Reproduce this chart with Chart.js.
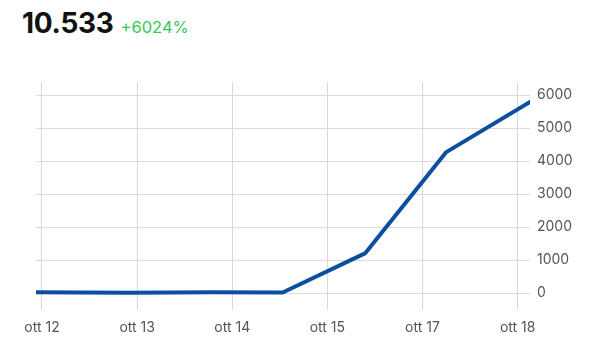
<!DOCTYPE html>
<html>
<head>
<meta charset="utf-8">
<script src="https://cdn.jsdelivr.net/npm/chart.js@4"></script>
<style>
  html, body { margin: 0; padding: 0; background: #fff; }
  body { width: 600px; height: 354px; position: relative; overflow: hidden; font-family: Inter, "Noto Sans", sans-serif; }
  #titolo { position: absolute; left: 22px; top: 6px; white-space: nowrap; }
  #valore { font-size: 28px; font-weight: 700; color: #111; letter-spacing: -0.3px; }
  #variazione { font-size: 16.5px; color: #34c759; margin-left: 7px; }
  #grafico { position: absolute; left: 0; top: 0; }
</style>
</head>
<body>
<div id="titolo"><span id="valore">10.533</span><span id="variazione">+6024%</span></div>
<canvas id="grafico" width="600" height="354"></canvas>
<script>
// etichette dei giorni (ott 16 manca nel grafico)
const giorni = ['ott 12', 'ott 13', 'ott 14', 'ott 15', 'ott 17', 'ott 18'];
// posizione dei punti sull'asse dei giorni (0 = ott 12)
const posizioni = [-0.063, 0.9, 1.8, 2.53, 3.40, 4.25, 5.13];
const valori = [20, 10, 25, 15, 1210, 4270, 5790];
const tickY = [0, 1000, 2000, 3000, 4000, 5000, 6000];

const punti = posizioni.map((x, i) => ({ x: x, y: valori[i] }));

const contesto = document.getElementById('grafico').getContext('2d');
new Chart(contesto, {
  type: 'line',
  data: {
    datasets: [{
      data: punti,
      borderColor: '#0b4f9e',
      borderWidth: 4,
      pointRadius: 0,
      tension: 0,
      borderCapStyle: 'round',
      borderJoinStyle: 'round'
    }]
  },
  options: {
    responsive: false,
    animation: false,
    layout: { padding: { left: 36, top: 82, right: 0, bottom: 0 } },
    plugins: { legend: { display: false }, tooltip: { enabled: false } },
    scales: {
      x: {
        type: 'linear',
        min: posizioni[0],
        max: posizioni[posizioni.length - 1],
        afterFit: (scala) => { scala.height = 44; },
        border: { display: false },
        grid: { color: '#d9d9d9', drawTicks: false },
        ticks: {
          stepSize: 1,
          includeBounds: false,
          padding: 9,
          color: '#555',
          font: { family: 'Inter', size: 14 },
          callback: (v) => giorni[v]
        }
      },
      y: {
        position: 'right',
        min: -515,
        max: 6394,
        afterFit: (scala) => { scala.width = 70; },
        afterBuildTicks: (scala) => { scala.ticks = tickY.map(v => ({ value: v })); },
        border: { display: false },
        grid: { color: '#dcdcdc', drawTicks: false },
        ticks: {
          padding: 7,
          color: '#555',
          font: { family: 'Inter', size: 14 },
          callback: (v) => String(v)
        }
      }
    }
  }
});
</script>
</body>
</html>
